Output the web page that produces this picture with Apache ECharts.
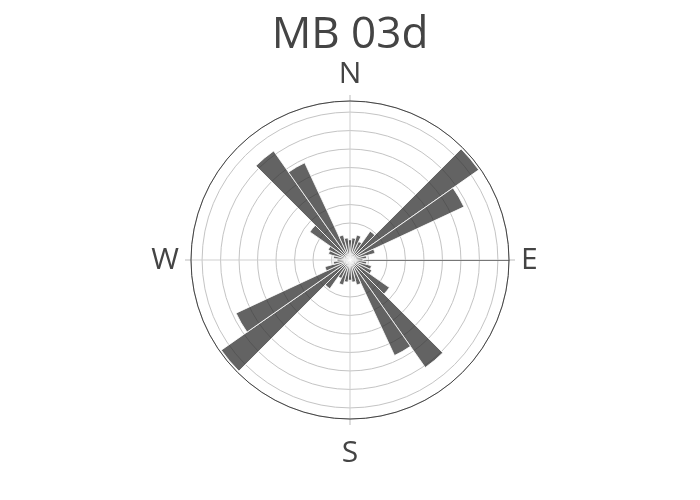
<!DOCTYPE html>
<html>
<head>
<meta charset="utf-8">
<script src="https://cdn.jsdelivr.net/npm/echarts@6/dist/echarts.min.js"></script>
<style>html,body{margin:0;padding:0;background:#fff}#c{width:700px;height:500px}</style>
</head>
<body>
<div id="c"></div>
<script>
// Direction bins (bin centres, degrees clockwise from north)
const directions = ['0','10','20','30','40','50','60','70','80','90','100','110','120','130','140','150','160','170',
  '180','190','200','210','220','230','240','250','260','270','280','290','300','310','320','330','340','350'];
// Bar lengths (radial units)
const values = [1.1,1.2,1.4,1.1,1.9,8.5,6.8,1.4,0.9,0.7,0.9,1.2,1.3,2.6,7.1,5.7,1.4,1.2,
  1.1,1.2,1.4,1.1,1.9,8.5,6.8,1.4,0.9,0.7,0.9,1.2,1.3,2.65,7.2,5.8,1.4,1.2];
// Compass labels (angle axis with 0 = east, clockwise)
const compassTicks = [0, 90, 180, 270];
const compassLabels = ['E', 'S', 'W', 'N'];
const radialMax = 8.6;

const chart = echarts.init(document.getElementById('c'), null, {renderer: 'canvas'});
const font = '"Open Sans", "DejaVu Sans", sans-serif';
chart.setOption({
  animation: false,
  backgroundColor: '#fff',
  title: {
    text: 'MB 03d', left: 'center', top: 8,
    textStyle: {fontSize: 44, fontWeight: 'normal', color: '#444', fontFamily: font}
  },
  polar: [
    {center: [350, 260], radius: 159},
    {center: [350, 260], radius: 159}
  ],
  angleAxis: [
    {
      polarIndex: 0, type: 'value', min: 0, max: 360, interval: 90,
      startAngle: 0, clockwise: true,
      axisLine: {show: true, lineStyle: {color: '#444', width: 1}},
      axisTick: {show: true, inside: false, length: 6, lineStyle: {color: '#bbb'}},
      axisLabel: {
        show: true, margin: 12, fontSize: 30, color: '#444', fontFamily: font,
        formatter: function (v) {
          const i = compassTicks.indexOf(v);
          if (i < 0) return '';
          return compassLabels[i] === 'S' ? '{s|S}' : compassLabels[i];
        },
        rich: {s: {fontSize: 30, color: '#444', fontFamily: font, padding: [7, 0, 0, 0]}}
      },
      splitLine: {show: true, lineStyle: {color: '#cfcfcf', width: 1}}
    },
    {
      polarIndex: 1, type: 'category', data: directions, startAngle: 95, clockwise: true,
      boundaryGap: true, show: false
    }
  ],
  radiusAxis: [
    {
      polarIndex: 0, type: 'value', min: 0, max: radialMax, interval: 1,
      axisLine: {show: true, lineStyle: {color: '#777', width: 1}},
      axisTick: {show: false}, axisLabel: {show: false},
      splitLine: {show: true, lineStyle: {color: '#c4c4c4', width: 1}}
    },
    {polarIndex: 1, type: 'value', min: 0, max: radialMax, show: false}
  ],
  series: [{
    type: 'bar', coordinateSystem: 'polar', polarIndex: 1,
    data: values, barCategoryGap: '0%',
    itemStyle: {color: 'rgba(45,45,45,0.74)', borderColor: '#fff', borderWidth: 0.8}
  }]
});
</script>
</body>
</html>
